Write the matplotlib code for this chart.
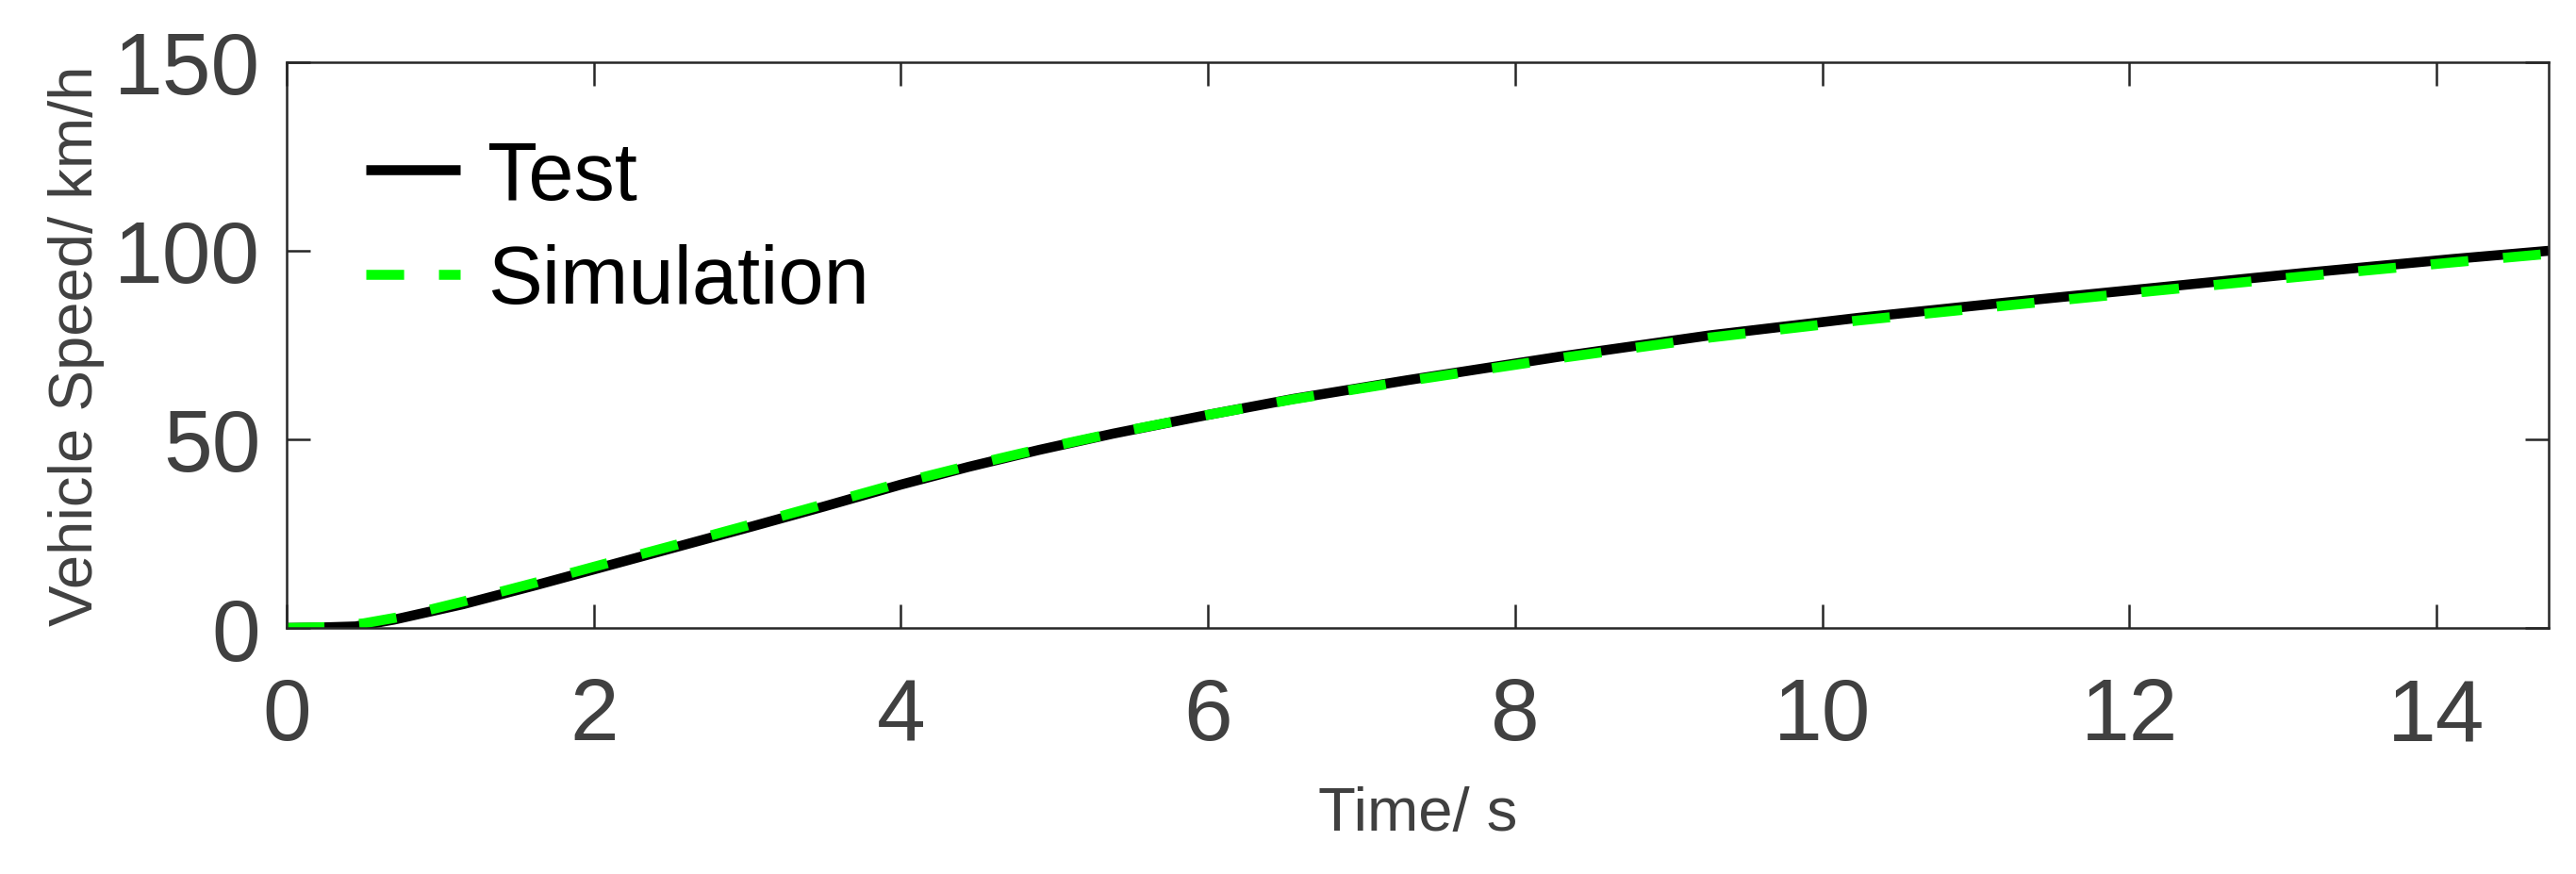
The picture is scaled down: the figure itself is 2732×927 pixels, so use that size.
import matplotlib
matplotlib.use("Agg")
import matplotlib.pyplot as plt

# --- data ---
time_test = [0, 0.2, 0.45, 0.7, 1.15, 1.62, 2.0, 2.56, 3.03, 3.5, 4.0, 4.44, 4.9,
             5.38, 6.0, 6.55, 7.3, 8.3, 9.27, 10.23, 11.2, 12.17, 13.13, 14.1, 14.73]
speed_test = [0, 0.1, 0.4, 2.2, 6.3, 11.3, 15.5, 21.7, 26.9, 32.2, 38.0, 42.7, 47.2,
              51.5, 56.5, 60.7, 65.7, 72.0, 77.6, 82.2, 86.3, 90.2, 94.1, 97.8, 100.0]

time_sim = [0, 0.25, 0.5, 0.75, 1.15, 1.62, 2.0, 2.56, 3.03, 3.5, 4.0, 4.44, 4.9,
            5.38, 6.0, 6.55, 7.3, 8.3, 9.27, 10.23, 11.2, 12.17, 13.13, 14.1, 14.73]
speed_sim = [0, 0.2, 1.2, 3.0, 7.0, 12.0, 16.2, 22.3, 27.5, 32.8, 38.5, 43.0, 47.4,
             51.6, 56.5, 60.6, 65.5, 71.6, 77.0, 81.5, 85.5, 89.4, 93.2, 96.9, 99.2]

xticks = [0, 2, 4, 6, 8, 10, 12, 14]
yticks = [0, 50, 100, 150]

plt.rcParams['font.family'] = ['Liberation Sans', 'DejaVu Sans']

fig = plt.figure(figsize=(27.32, 9.28), dpi=100)
ax = fig.add_axes([304 / 2732, 1 - 667 / 928, (2703 - 304) / 2732, (667 - 67) / 928])

lw = 7.6
ax.plot(time_test, speed_test, color='black', lw=lw, solid_capstyle='butt',
        solid_joinstyle='round', label='Test')
ax.plot(time_sim, speed_sim, color='#00ff00', lw=lw, linestyle=(0, (3.8, 3.5)),
        dash_capstyle='butt', label='Simulation')

ax.set_xlim(0, 14.73)
ax.set_ylim(0, 150)
ax.set_xticks(xticks)
ax.set_yticks(yticks)

grey = '#404040'
for s in ax.spines.values():
    s.set_color('#262626')
    s.set_linewidth(1.8)
ax.tick_params(axis='both', direction='in', length=18, width=1.8, color='#262626',
               top=True, right=True, labelsize=67, labelcolor=grey)
ax.tick_params(axis='x', pad=37)
ax.tick_params(axis='y', pad=20)

ax.set_xlabel('Time/ s', fontsize=47, color=grey, labelpad=21)
ax.set_ylabel('Vehicle Speed/ km/h', fontsize=47, color=grey, labelpad=7)

ax.legend(loc='upper left', bbox_to_anchor=(0.035, 0.864), frameon=False,
          fontsize=62.5, borderpad=0, borderaxespad=0, handlelength=1.15,
          handletextpad=0.34, labelspacing=0.34)

fig.savefig('out.png', dpi=100)
